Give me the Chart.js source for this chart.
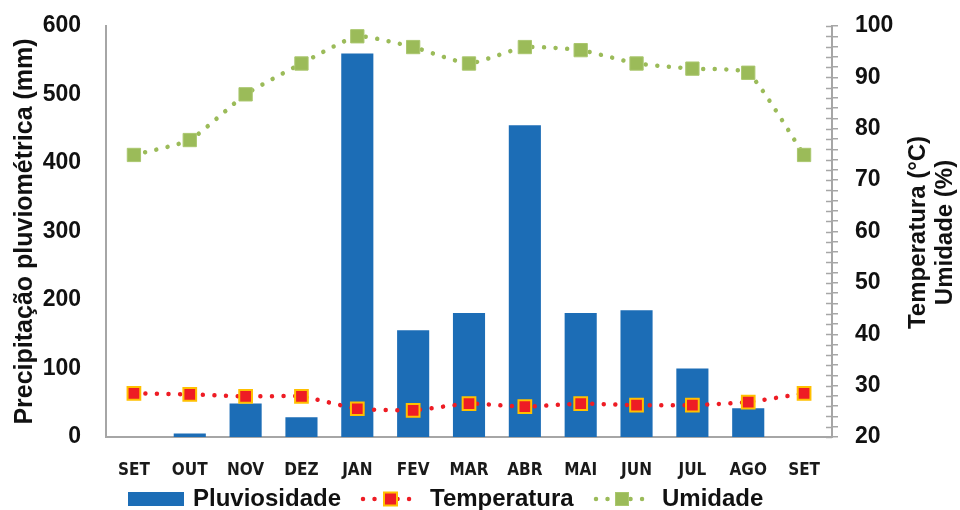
<!DOCTYPE html>
<html><head><meta charset="utf-8">
<script src="https://cdn.jsdelivr.net/npm/chart.js@4.4.1/dist/chart.umd.min.js"></script>
<style>html,body{margin:0;padding:0;background:#fff}#wrap{width:960px;height:510px;position:relative}</style>
</head><body><div id="wrap"><canvas id="c" width="960" height="510"></canvas></div>
<script>
const months = ['SET','OUT','NOV','DEZ','JAN','FEV','MAR','ABR','MAI','JUN','JUL','AGO','SET'];
const pluviosidade = [0, 5, 49, 29, 560, 156, 181, 455, 181, 185, 100, 42, 0];
const temperatura = [28.5, 28.3, 27.9, 27.9, 25.5, 25.2, 26.5, 25.9, 26.5, 26.2, 26.2, 26.8, 28.5];
const umidade = [74.9, 77.8, 86.7, 92.7, 98.0, 95.9, 92.7, 95.9, 95.3, 92.7, 91.7, 90.9, 74.9];
const leftTicks = [0, 100, 200, 300, 400, 500, 600];
const rightTicks = [20, 30, 40, 50, 60, 70, 80, 90, 100];

const BLUE = '#1c6db6', RED = '#ee1c24', GOLD = '#ffc000', GREEN = '#9bbb59', AXIS = '#a6a6a6';
const numFont = {family: "'Liberation Sans', Arial, sans-serif", size: 23, weight: 'bold'};

const extras = {
  id: 'extras',
  afterDraw(chart) {
    const ctx = chart.ctx;
    const y1 = chart.scales.y1;
    ctx.save();
    // inner tick marks of right axis
    ctx.strokeStyle = AXIS; ctx.lineWidth = 1.5;
    y1.ticks.forEach(t => {
      const py = Math.round(y1.getPixelForValue(t.value)) + 0.5;
      ctx.beginPath(); ctx.moveTo(y1.left - 6, py); ctx.lineTo(y1.left, py); ctx.stroke();
    });
    // right axis title (reads bottom to top)
    const cy = (chart.chartArea.top + chart.chartArea.bottom) / 2 + 1;
    ctx.fillStyle = '#111';
    ctx.font = "bold 24px 'Liberation Sans', Arial, sans-serif";
    ctx.textAlign = 'center'; ctx.textBaseline = 'middle';
    [['Temperatura (°C)', 918], ['Umidade (%)', 945]].forEach(([t, x]) => {
      ctx.save(); ctx.translate(x, cy); ctx.rotate(-Math.PI / 2); ctx.fillText(t, 0, 0); ctx.restore();
    });
    // legend
    const ly = 499;
    const byLabel = l => chart.data.datasets.find(d => d.label === l);
    const bar = byLabel('Pluviosidade');
    ctx.font = "bold 24px 'Liberation Sans', Arial, sans-serif";
    ctx.textAlign = 'left';
    ctx.fillStyle = bar.backgroundColor;
    ctx.fillRect(128, ly - 7, 56, 14);
    ctx.fillStyle = '#111';
    ctx.fillText(bar.label, 193, ly);
    const lineItem = (d, x0, x1, tx) => {
      ctx.save();
      ctx.strokeStyle = d.borderColor; ctx.lineWidth = d.borderWidth; ctx.lineCap = 'round';
      ctx.setLineDash(d.borderDash);
      ctx.beginPath(); ctx.moveTo(x0, ly); ctx.lineTo(x1, ly); ctx.stroke();
      ctx.restore();
      const cx = (x0 + x1) / 2, s = 13;
      ctx.fillStyle = d.pointBackgroundColor;
      ctx.fillRect(cx - s / 2, ly - s / 2, s, s);
      ctx.strokeStyle = d.pointBorderColor; ctx.lineWidth = d.pointBorderWidth;
      ctx.strokeRect(cx - s / 2, ly - s / 2, s, s);
      ctx.fillStyle = '#111';
      ctx.fillText(d.label, tx, ly);
    };
    lineItem(byLabel('Temperatura'), 363, 418, 430);
    lineItem(byLabel('Umidade'), 596, 648, 662);
    ctx.restore();
  }
};

new Chart(document.getElementById('c'), {
  data: {
    labels: months,
    datasets: [
      {type: 'line', label: 'Temperatura', data: temperatura, yAxisID: 'y1', order: 1,
       borderColor: RED, borderWidth: 4.5, borderDash: [0.01, 11.5], borderCapStyle: 'round',
       pointStyle: 'rect', pointRadius: 9, pointBackgroundColor: RED, pointBorderColor: GOLD, pointBorderWidth: 2,
       tension: 0.15, fill: false},
      {type: 'line', label: 'Umidade', data: umidade, yAxisID: 'y1', order: 2,
       borderColor: GREEN, borderWidth: 4.5, borderDash: [0.01, 11.5], borderCapStyle: 'round',
       pointStyle: 'rect', pointRadius: 9.4, pointBackgroundColor: GREEN, pointBorderColor: '#aac76e', pointBorderWidth: 1,
       tension: 0.15, fill: false},
      {type: 'bar', label: 'Pluviosidade', data: pluviosidade, yAxisID: 'y', order: 3,
       backgroundColor: BLUE, borderWidth: 0,
       barPercentage: 0.575, categoryPercentage: 1.0}
    ]
  },
  options: {
    responsive: false, animation: false, devicePixelRatio: 1,
    layout: {padding: {top: 26, left: 0, right: 0, bottom: 0}},
    plugins: {legend: {display: false}, tooltip: {enabled: false}},
    scales: {
      x: {
        grid: {display: false, drawTicks: false},
        border: {display: true, color: AXIS, width: 2},
        ticks: {color: '#1a1a1a', padding: 23, maxRotation: 0, autoSkip: false,
          font: {family: "'DejaVu Sans Condensed', 'DejaVu Sans', sans-serif", size: 17, weight: 'bold'}},
        afterFit(s) { s.height = 73; }
      },
      y: {
        position: 'left',
        min: leftTicks[0], max: leftTicks[leftTicks.length - 1],
        grid: {display: false, drawTicks: false},
        border: {display: true, color: AXIS, width: 2},
        ticks: {stepSize: leftTicks[1] - leftTicks[0], color: '#111', padding: 25, font: numFont},
        title: {display: true, text: 'Precipitação pluviométrica (mm)', color: '#111',
          font: {family: "'Liberation Sans', Arial, sans-serif", size: 25, weight: 'bold'}, padding: {top: 10, bottom: 0}},
        afterFit(s) { s.width = 106; s.paddingTop = 12; s.paddingBottom = 12; }
      },
      y1: {
        position: 'right',
        min: rightTicks[0], max: rightTicks[rightTicks.length - 1],
        grid: {display: true, drawOnChartArea: false, drawTicks: true, tickLength: 6, color: AXIS, lineWidth: 1.5},
        border: {display: true, color: AXIS, width: 2},
        ticks: {stepSize: 2, autoSkip: false, color: '#111', padding: 17, font: numFont,
          callback: v => rightTicks.includes(v) ? String(v) : ''},
        afterFit(s) { s.width = 128; s.paddingTop = 12; s.paddingBottom = 12; }
      }
    }
  },
  plugins: [extras]
});
</script>
</body></html>
